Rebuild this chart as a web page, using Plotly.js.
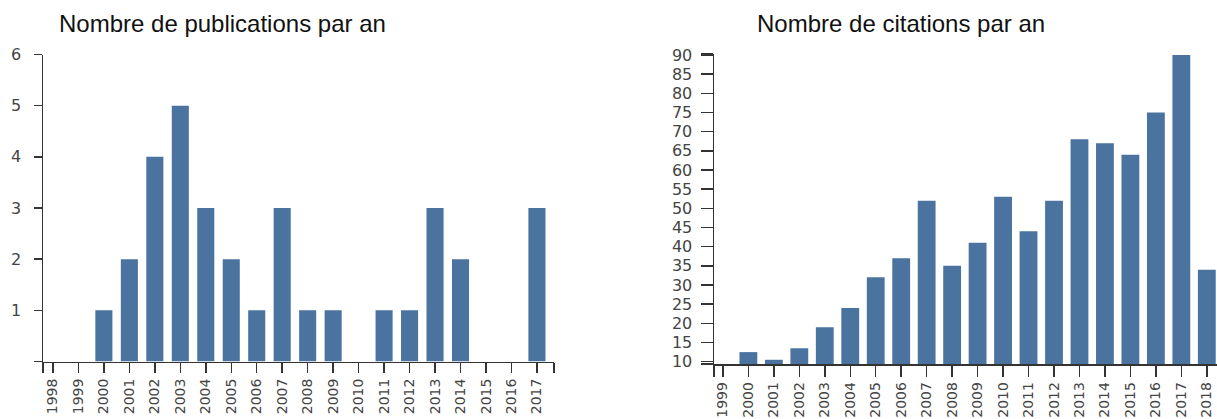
<!DOCTYPE html>
<html>
<head>
<meta charset="utf-8">
<script src="https://cdn.plot.ly/plotly-3.0.1.min.js"></script>
<style>
html,body{margin:0;padding:0;background:#fff;}
#chart{width:1217px;height:419px;}
</style>
</head>
<body>
<div id="chart"></div>
<script>
// ---- Data ----
const pubYears = [1998,1999,2000,2001,2002,2003,2004,2005,2006,2007,2008,2009,2010,2011,2012,2013,2014,2015,2016,2017];
const pubCounts = [0,0,1,2,4,5,3,2,1,3,1,1,0,1,1,3,2,0,0,3];
const citYears = [1999,2000,2001,2002,2003,2004,2005,2006,2007,2008,2009,2010,2011,2012,2013,2014,2015,2016,2017,2018];
const citCounts = [0,12.5,10.5,13.5,19,24,32,37,52,35,41,53,44,52,68,67,64,75,90,34];
const pubYTicks = [1,2,3,4,5,6];
const citYTicks = [10,15,20,25,30,35,40,45,50,55,60,65,70,75,80,85,90];
const leftTitle = "Nombre de publications par an";
const rightTitle = "Nombre de citations par an";

// ---- Layout helpers (pixel geometry) ----
const W = 1217, H = 419;
const px = v => v / W;
const py = v => 1 - v / H;

const barColor = "#4a73a0";
const axisColor = "#333";
const tickFont = {family: "DejaVu Sans, Verdana, sans-serif", size: 14, color: "#444"};

// outer (domain-end) ticks, d3 style
const leftXRange = [1997.61, 2017.67];
const rightXRange = [1998.65, 2018.4];
const rightYRange = [9.4, 90.3];

const traces = [
  {type: "bar", x: pubYears, y: pubCounts, xaxis: "x", yaxis: "y",
   width: 0.67, marker: {color: barColor}, hoverinfo: "x+y"},
  {type: "bar", x: citYears, y: citCounts, xaxis: "x2", yaxis: "y2",
   width: 0.7, marker: {color: barColor}, hoverinfo: "x+y"}
];

const xCommon = {
  type: "linear", showgrid: false, zeroline: false, showline: true,
  linecolor: axisColor, linewidth: 1.5, ticks: "outside", ticklen: 10,
  tickcolor: axisColor, tickwidth: 1.5, tickangle: -90, tickfont: tickFont,
  tickmode: "array", fixedrange: true
};
const yCommon = {
  type: "linear", showgrid: false, zeroline: false, showline: true,
  linecolor: axisColor, linewidth: 1.5, ticks: "outside", ticklen: 8,
  tickcolor: axisColor, tickwidth: 1.5, tickfont: tickFont,
  tickmode: "array", fixedrange: true
};

const layout = {
  width: W, height: H,
  margin: {l: 0, r: 0, t: 0, b: 0},
  paper_bgcolor: "#fff", plot_bgcolor: "#fff",
  showlegend: false,
  xaxis: Object.assign({}, xCommon, {
    domain: [px(43), px(554)], range: leftXRange, anchor: "y",
    tickvals: [leftXRange[0]].concat(pubYears, [leftXRange[1]]),
    ticktext: [""].concat(pubYears.map(String), [""])
  }),
  yaxis: Object.assign({}, yCommon, {
    domain: [py(361.5), py(54.5)], range: [0, 6], anchor: "x",
    tickvals: [0].concat(pubYTicks),
    ticktext: [""].concat(pubYTicks.map(String)),
    tickfont: Object.assign({}, tickFont, {size: 16}),
    ticklabelstandoff: 9
  }),
  xaxis2: Object.assign({}, xCommon, {
    domain: [px(714), 1], range: rightXRange, anchor: "y2",
    tickvals: [rightXRange[0]].concat(citYears),
    ticktext: [""].concat(citYears.map(String)),
    ticklen: 11
  }),
  yaxis2: Object.assign({}, yCommon, {
    domain: [py(364), py(53.8)], range: rightYRange, anchor: "x2",
    tickvals: [rightYRange[0]].concat(citYTicks, [rightYRange[1]]),
    ticktext: [""].concat(citYTicks.map(String), [""]),
    tickfont: Object.assign({}, tickFont, {size: 16}),
    ticklen: 12, ticklabelstandoff: 5
  }),
  annotations: [
    {text: leftTitle, xref: "paper", yref: "paper", x: px(223), y: py(24),
     xanchor: "center", yanchor: "middle", showarrow: false,
     font: {family: "Liberation Sans, Arial, sans-serif", size: 24, color: "#111"}},
    {text: rightTitle, xref: "paper", yref: "paper", x: px(901), y: py(24),
     xanchor: "center", yanchor: "middle", showarrow: false,
     font: {family: "Liberation Sans, Arial, sans-serif", size: 24, color: "#111"}}
  ]
};

Plotly.newPlot("chart", traces, layout, {displayModeBar: false, staticPlot: true});
</script>
</body>
</html>
